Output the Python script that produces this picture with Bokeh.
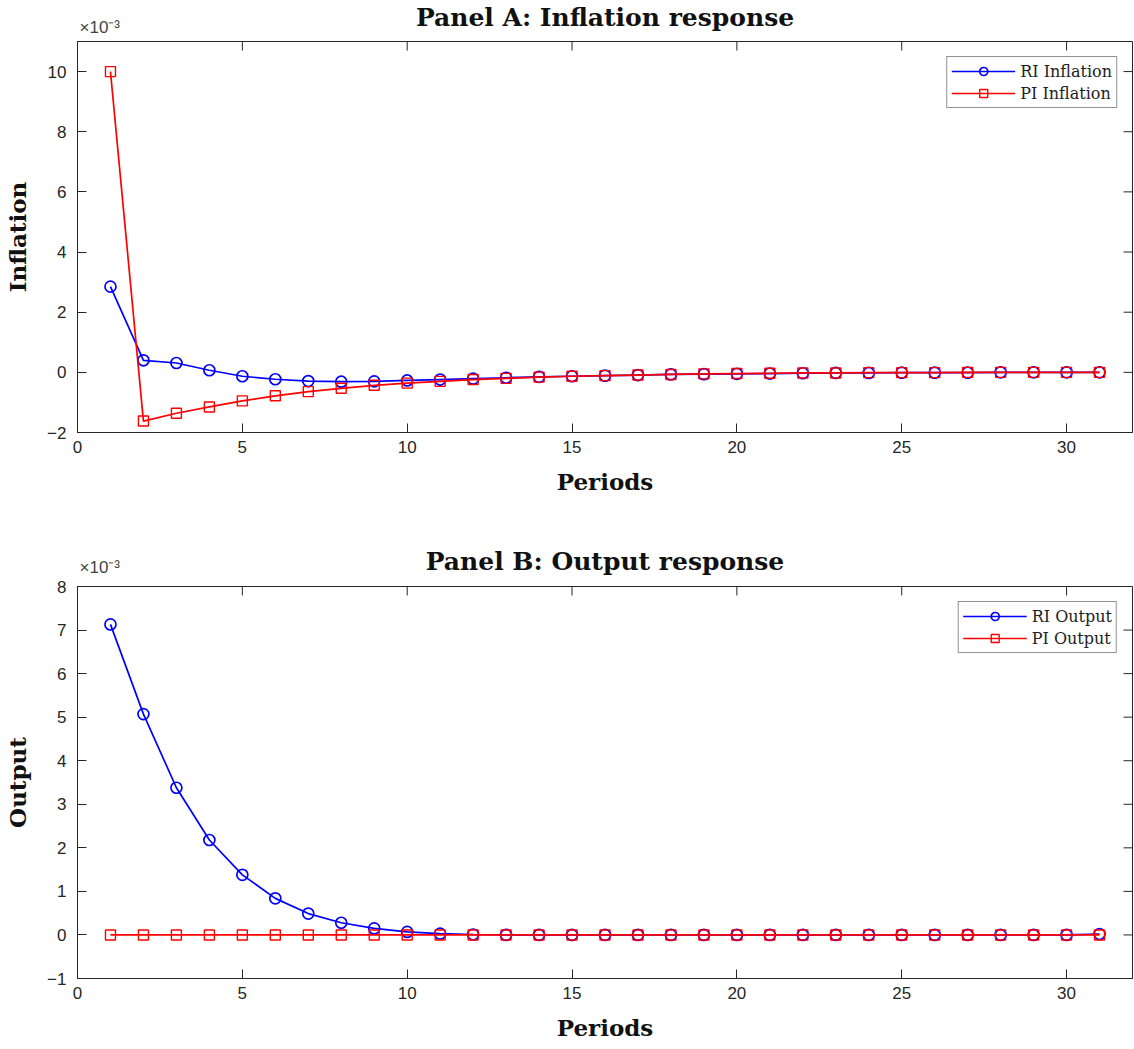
from bokeh.plotting import figure
from bokeh.models import Range1d, FixedTicker, Legend, Label
from bokeh.layouts import column
from bokeh.embed import file_html
from bokeh.resources import INLINE

periods = list(range(1, 32))

ri_inflation = [2.85, 0.40, 0.31, 0.07, -0.13, -0.23, -0.29, -0.31, -0.30, -0.27,
                -0.24, -0.21, -0.18, -0.15, -0.13, -0.11, -0.09, -0.07, -0.06, -0.05,
                -0.04, -0.03, -0.02, -0.02, -0.01, -0.01, -0.01, 0.0, 0.0, 0.0, 0.0]
pi_inflation = [10.0, -1.62, -1.36, -1.15, -0.95, -0.78, -0.64, -0.53, -0.43, -0.36,
                -0.30, -0.24, -0.20, -0.16, -0.13, -0.11, -0.09, -0.07, -0.05, -0.04,
                -0.03, -0.02, -0.02, -0.01, -0.01, -0.01, 0.0, 0.0, 0.0, 0.0, 0.0]
ri_output = [7.13, 5.07, 3.38, 2.18, 1.38, 0.84, 0.49, 0.28, 0.15, 0.07,
             0.03, 0.01, 0.0, 0.0, 0.0, 0.0, 0.0, 0.0, 0.0, 0.0,
             0.0, 0.0, 0.0, 0.0, 0.0, 0.0, 0.0, 0.0, 0.0, 0.0, 0.02]
pi_output = [0.0] * 31

x_lo, x_hi = 0, 32
x_ticks = [0, 5, 10, 15, 20, 25, 30]
yA_ticks = [-2, 0, 2, 4, 6, 8, 10]
yB_ticks = [-1, 0, 1, 2, 3, 4, 5, 6, 7, 8]
exponent_label = "×10⁻³"

AX = "#262626"
SERIF = "DejaVu Serif"
SANS = "Liberation Sans"
BLUE = "#0000FF"
RED = "#FF0000"
TICK = 9
W = 1134
LEFT, RIGHT = 77, 2


def make_header(title, h, title_from_top, exp_from_top):
    """Strip above a panel holding its title and the x10^-3 exponent.
    Its frame is aligned by the column with the panel frames below."""
    hp = figure(width=W, height=h, output_backend="svg", toolbar_location=None,
                x_range=Range1d(0, 1), y_range=Range1d(0, h),
                x_axis_type=None, y_axis_type=None,
                min_border_left=LEFT, min_border_right=RIGHT, min_border_top=0,
                min_border_bottom=0)
    hp.outline_line_color = None
    hp.grid.visible = False
    hp.add_layout(Label(x=0.5, y=h - title_from_top, text=title,
                        text_align="center", text_baseline="middle",
                        text_font=SERIF, text_font_style="bold",
                        text_font_size="25px", text_color="#111111"))
    hp.add_layout(Label(x=0, y=h - exp_from_top, x_offset=2, text=exponent_label,
                        text_align="left", text_baseline="middle",
                        text_font=SANS, text_font_size="17px", text_color="#444444"))
    return hp


def make_panel(ylabel, y_lo, y_hi, y_ticks, ri, pi, ri_lab, pi_lab,
               height, top, bottom, ylab_standoff):
    fw = W - LEFT - RIGHT
    fh = height - top - bottom
    p = figure(width=W, height=height, output_backend="svg", toolbar_location=None,
               x_range=Range1d(x_lo, x_hi), y_range=Range1d(y_lo, y_hi),
               min_border_left=LEFT, min_border_right=RIGHT, min_border_top=top,
               min_border_bottom=bottom)
    p.grid.visible = False
    p.outline_line_color = AX
    p.outline_line_width = 1

    p.xaxis.ticker = FixedTicker(ticks=x_ticks)
    p.yaxis.ticker = FixedTicker(ticks=y_ticks)
    for ax in (p.xaxis[0], p.yaxis[0]):
        ax.major_tick_in = TICK
        ax.major_tick_out = 0
        ax.minor_tick_in = 0
        ax.minor_tick_out = 0
        ax.axis_line_color = AX
        ax.major_tick_line_color = AX
        ax.major_label_text_font = SANS
        ax.major_label_text_font_size = "17px"
        ax.major_label_text_color = AX
        ax.axis_label_text_font = SERIF
        ax.axis_label_text_font_style = "bold"
        ax.axis_label_text_font_size = "23px"
        ax.axis_label_text_color = "#111111"
    p.xaxis.axis_label = "Periods"
    p.yaxis.axis_label = ylabel
    p.xaxis.major_label_standoff = 8
    p.yaxis.major_label_standoff = 11
    p.xaxis.axis_label_standoff = 12
    p.yaxis.axis_label_standoff = ylab_standoff

    # mirrored inward ticks on the top and right edges (box on)
    ty = (y_hi - y_lo) * TICK / fh
    tx = (x_hi - x_lo) * TICK / fw
    p.segment(x0=x_ticks, y0=[y_hi] * len(x_ticks), x1=x_ticks,
              y1=[y_hi - ty] * len(x_ticks), line_color=AX, line_width=1)
    p.segment(x0=[x_hi] * len(y_ticks), y0=y_ticks, x1=[x_hi - tx] * len(y_ticks),
              y1=y_ticks, line_color=AX, line_width=1)

    r1 = p.line(periods, ri, line_color=BLUE, line_width=1.7)
    s1 = p.scatter(periods, ri, marker="circle", size=11, line_color=BLUE,
                   fill_color=None, line_width=1.7)
    r2 = p.line(periods, pi, line_color=RED, line_width=1.7)
    s2 = p.scatter(periods, pi, marker="square", size=10, line_color=RED,
                   fill_color=None, line_width=1.4)

    legend = Legend(items=[(ri_lab, [r1, s1]), (pi_lab, [r2, s2])],
                    location="top_right")
    legend.label_text_font = SERIF
    legend.label_text_font_size = "16px"
    legend.label_text_color = "#222222"
    legend.border_line_color = AX
    legend.border_line_width = 1
    legend.glyph_width = 64
    legend.glyph_height = 20
    legend.label_height = 20
    legend.spacing = 2
    legend.padding = 4
    legend.margin = 15
    legend.label_standoff = 5
    p.add_layout(legend)
    return p


hA = make_header("Panel A: Inflation response", 36, 17, 27)
p1 = make_panel("Inflation", -2, 11, yA_ticks,
                ri_inflation, pi_inflation, "RI Inflation", "PI Inflation",
                height=484, top=5, bottom=88, ylab_standoff=13)
hB = make_header("Panel B: Output response", 57, 41, 47)
p2 = make_panel("Output", -1, 8, yB_ticks,
                ri_output, pi_output, "RI Output", "PI Output",
                height=472, top=9, bottom=71, ylab_standoff=13)

layout = column(hA, p1, hB, p2, spacing=0)
open("out.html", "w").write(file_html(layout, INLINE))
